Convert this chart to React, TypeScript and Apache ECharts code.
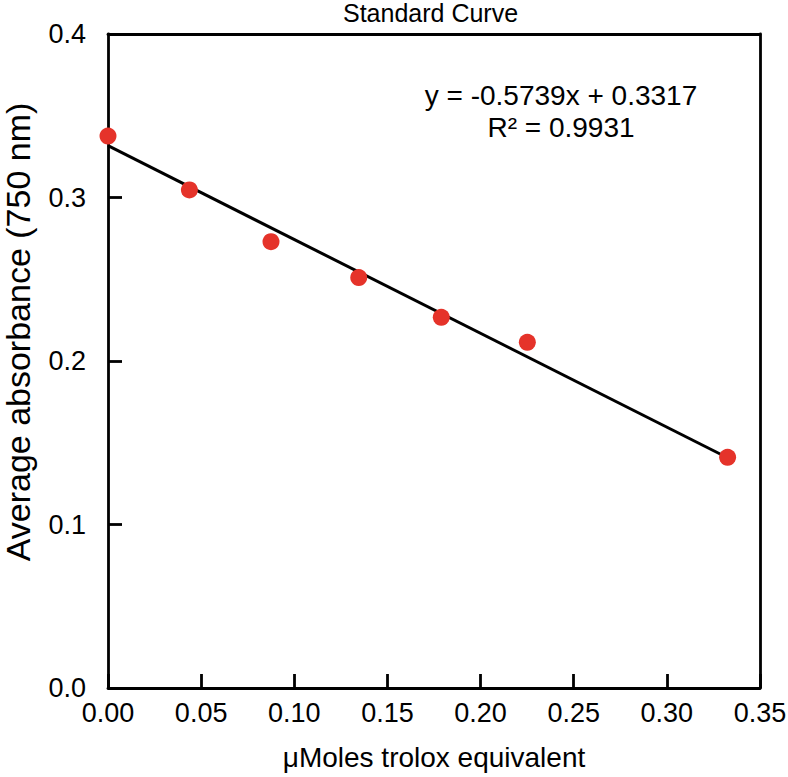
import React, { useEffect, useRef } from "react";
import * as echarts from "echarts";

const xValues = [0.0, 0.0437, 0.0875, 0.1346, 0.1789, 0.2251, 0.3326];
const yValues = [0.3376, 0.3046, 0.273, 0.251, 0.2267, 0.2114, 0.1411];
const slope = -0.5739;
const intercept = 0.3317;
const rSquared = 0.9931;
const titleText = "Standard Curve";
const xAxisName = "μMoles trolox equivalent";
const yAxisName = "Average absorbance (750 nm)";

const FONT = "'Liberation Sans', Arial, Helvetica, sans-serif";

const frameLine = { show: true, onZero: false, lineStyle: { color: "#000", width: 2.8 } };

export default function App() {
  const ref = useRef<HTMLDivElement>(null);
  useEffect(() => {
    if (!ref.current) return;
    const chart = echarts.init(ref.current, undefined, { renderer: "svg" });
    const points = xValues.map((x, i) => [x, yValues[i]]);
    const xStart = xValues[0];
    const xEnd = xValues[xValues.length - 1];
    const trend = [
      [xStart, intercept + slope * xStart],
      [xEnd, intercept + slope * xEnd],
    ];
    chart.setOption({
      animation: false,
      backgroundColor: "#fff",
      textStyle: { fontFamily: FONT, color: "#000" },
      grid: {
        left: 108,
        right: 28,
        top: 34,
        bottom: 89,
        outerBoundsMode: "none",
        containLabel: false,
        show: false,
      },
      xAxis: [
        {
          type: "value",
          position: "bottom",
          min: 0,
          max: 0.35,
          interval: 0.05,
          name: xAxisName,
          nameLocation: "middle",
          nameGap: 55,
          nameTextStyle: { fontSize: 28, color: "#000", fontFamily: FONT },
          axisLine: frameLine,
          axisTick: { show: true, inside: true, length: 14, lineStyle: { color: "#000", width: 2.8 } },
          axisLabel: {
            fontSize: 27,
            color: "#000",
            margin: 11,
            fontFamily: FONT,
            formatter: (v: number) => v.toFixed(2),
          },
          splitLine: { show: false },
        },
        {
          type: "value",
          position: "top",
          min: 0,
          max: 0.35,
          interval: 0.05,
          axisLine: frameLine,
          axisTick: { show: false },
          axisLabel: { show: false },
          splitLine: { show: false },
        },
      ],
      yAxis: [
        {
          type: "value",
          position: "left",
          min: 0,
          max: 0.4,
          interval: 0.1,
          axisLine: frameLine,
          axisTick: { show: true, inside: true, length: 14, lineStyle: { color: "#000", width: 2.8 } },
          axisLabel: {
            fontSize: 27,
            color: "#000",
            margin: 22,
            fontFamily: FONT,
            formatter: (v: number) => v.toFixed(1),
          },
          splitLine: { show: false },
        },
        {
          type: "value",
          position: "right",
          min: 0,
          max: 0.4,
          interval: 0.1,
          axisLine: frameLine,
          axisTick: { show: false },
          axisLabel: { show: false },
          splitLine: { show: false },
        },
      ],
      graphic: [
        {
          type: "text",
          left: 343,
          top: 0,
          style: { text: titleText, fontSize: 25, fill: "#000", fontFamily: FONT },
        },
        {
          type: "text",
          x: 18,
          y: 332,
          rotation: Math.PI / 2,
          style: {
            text: yAxisName,
            fontSize: 34,
            fill: "#000",
            fontFamily: FONT,
            align: "center",
            verticalAlign: "middle",
          },
        },
        {
          type: "text",
          x: 561,
          y: 95,
          style: {
            text: `y = ${slope.toFixed(4)}x + ${intercept.toFixed(4)}`,
            fontSize: 28,
            fill: "#000",
            fontFamily: FONT,
            align: "center",
            verticalAlign: "middle",
          },
        },
        {
          type: "text",
          x: 561,
          y: 127,
          style: {
            text: `R² = ${rSquared.toFixed(4)}`,
            fontSize: 28,
            fill: "#000",
            fontFamily: FONT,
            align: "center",
            verticalAlign: "middle",
          },
        },
      ],
      series: [
        {
          type: "line",
          xAxisIndex: 0,
          yAxisIndex: 0,
          data: trend,
          symbol: "none",
          lineStyle: { color: "#000", width: 3 },
          z: 2,
        },
        {
          type: "scatter",
          xAxisIndex: 0,
          yAxisIndex: 0,
          data: points,
          symbol: "circle",
          symbolSize: 17,
          itemStyle: { color: "#e5332a", opacity: 1 },
          z: 3,
        },
      ],
    });
    return () => chart.dispose();
  }, []);
  return (
    <div
      ref={ref}
      style={{ position: "fixed", left: 0, top: 0, width: 788, height: 777, background: "#fff" }}
    />
  );
}
